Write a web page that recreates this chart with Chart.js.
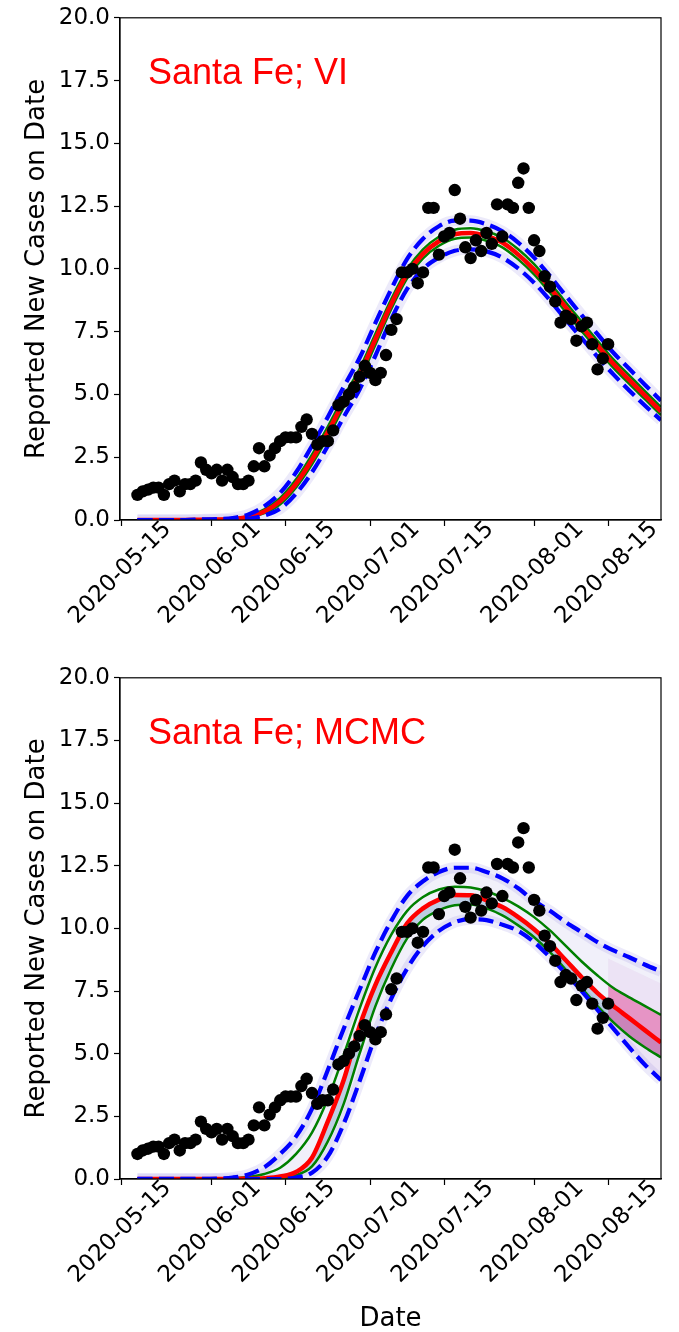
<!DOCTYPE html>
<html>
<head>
<meta charset="utf-8">
<script src="https://cdn.jsdelivr.net/npm/chart.js@4.4.1/dist/chart.umd.min.js"></script>
<style>
  html, body { margin: 0; padding: 0; background: #fff; }
  #wrap { position: relative; width: 679px; height: 1332px; }
  canvas { position: absolute; left: 0; }
  #topChart { top: 0; }
  #bottomChart { top: 660px; }
</style>
</head>
<body>
<div id="wrap">
  <canvas id="topChart" width="679" height="660"></canvas>
  <canvas id="bottomChart" width="679" height="672"></canvas>
</div>
<script>
// day 0 = 2020-05-15
const tickDays = [0, 17, 31, 47, 61, 78, 92];
const tickLabels = ['2020-05-15', '2020-06-01', '2020-06-15', '2020-07-01', '2020-07-15', '2020-08-01', '2020-08-15'];
const yTicks = [0, 2.5, 5, 7.5, 10, 12.5, 15, 17.5, 20];

// Reported cases (black dots)
const obsDays = [3, 4, 5, 6, 7, 8, 9, 10, 11, 12, 13, 14, 15, 16, 17, 18, 19, 20, 21, 22,
  23, 24, 25, 26, 27, 28, 29, 30, 31, 32, 33, 34, 35, 36, 37, 38, 39, 40, 41, 42,
  43, 44, 45, 46, 47, 48, 49, 50, 51, 52, 53, 54, 55, 56, 57, 58, 59, 60, 61, 62,
  63, 64, 65, 66, 67, 68, 69, 70, 71, 72, 73, 74, 75, 76, 77, 78, 79, 80, 81, 82,
  83, 84, 85, 86, 87, 88, 89, 90, 91, 92];
const obsCases = [1.0, 1.14, 1.21, 1.29, 1.29, 1.0, 1.43, 1.57, 1.14, 1.43, 1.43, 1.57, 2.29, 2.0, 1.86, 2.0, 1.57, 2.0, 1.71, 1.43,
  1.43, 1.57, 2.14, 2.86, 2.14, 2.57, 2.86, 3.14, 3.29, 3.29, 3.29, 3.71, 4.0, 3.43, 3.0, 3.14, 3.14, 3.57, 4.57, 4.71,
  5.0, 5.29, 5.71, 6.14, 5.86, 5.57, 5.86, 6.57, 7.57, 8.0, 9.86, 9.86, 10.0, 9.43, 9.86, 12.43, 12.43, 10.57, 11.29, 11.43,
  13.14, 12.0, 10.86, 10.43, 11.14, 10.71, 11.43, 11.0, 12.57, 11.29, 12.57, 12.43, 13.43, 14.0, 12.43, 11.14, 10.71, 9.71, 9.29, 8.71,
  7.86, 8.14, 8.0, 7.14, 7.71, 7.86, 7.0, 6.0, 6.43, 7.0];

// Model curves, read every 3 days
const curveDays = [3, 6, 9, 12, 15, 18, 21, 24, 27, 30, 33, 36, 39, 42, 45, 48, 51,
  54, 57, 60, 63, 66, 69, 72, 75, 78, 81, 84, 87, 90, 93, 96, 99, 102];

const viMean    = [0, 0, 0, 0, 0.01, 0.02, 0.04, 0.12, 0.34, 0.75, 1.45, 2.4, 3.5, 4.7, 5.8, 7.2, 8.6,
  9.8, 10.6, 11.1, 11.38, 11.43, 11.3, 11.05, 10.57, 9.97, 9.25, 8.47, 7.7, 6.95, 6.22, 5.58, 4.95, 4.33];
const viInnerHi = [0, 0, 0, 0, 0.01, 0.03, 0.06, 0.16, 0.42, 0.88, 1.62, 2.6, 3.72, 4.92, 6.02, 7.42, 8.8,
  9.98, 10.78, 11.28, 11.56, 11.62, 11.5, 11.24, 10.78, 10.19, 9.46, 8.66, 7.9, 7.14, 6.4, 5.76, 5.12, 4.5];
const viInnerLo = [0, 0, 0, 0, 0.005, 0.015, 0.03, 0.09, 0.27, 0.63, 1.3, 2.22, 3.3, 4.48, 5.58, 6.98, 8.4,
  9.62, 10.42, 10.92, 11.2, 11.25, 11.12, 10.86, 10.38, 9.78, 9.05, 8.28, 7.52, 6.78, 6.06, 5.42, 4.8, 4.18];
const viOuterHi = [0, 0, 0, 0, 0.02, 0.04, 0.08, 0.22, 0.55, 1.08, 1.9, 2.95, 4.1, 5.3, 6.45, 7.85, 9.2,
  10.4, 11.2, 11.7, 11.92, 11.92, 11.78, 11.5, 11.05, 10.45, 9.72, 8.93, 8.16, 7.4, 6.66, 6.02, 5.38, 4.75];
const viOuterLo = [0, 0, 0, 0, 0, 0.01, 0.02, 0.05, 0.18, 0.45, 1.05, 1.9, 2.95, 4.1, 5.2, 6.55, 8.0,
  9.2, 10.0, 10.45, 10.72, 10.78, 10.7, 10.45, 10.02, 9.45, 8.75, 7.98, 7.24, 6.5, 5.8, 5.16, 4.55, 3.98];

const mcMean    = [0, 0, 0, 0, 0, 0, 0.005, 0.01, 0.03, 0.1, 0.28, 0.85, 2.3, 3.95, 6.1, 7.75, 9.05,
  10.2, 10.8, 11.15, 11.33, 11.32, 11.12, 10.85, 10.45, 9.97, 9.4, 8.73, 8.05, 7.42, 6.9, 6.42, 5.93, 5.45];
const mcInnerHi = [0, 0, 0, 0, 0, 0.01, 0.03, 0.08, 0.2, 0.45, 1.0, 1.85, 3.2, 4.95, 6.8, 8.45, 9.75,
  10.7, 11.25, 11.55, 11.66, 11.63, 11.48, 11.22, 10.88, 10.45, 9.92, 9.3, 8.68, 8.12, 7.62, 7.25, 6.9, 6.55];
const mcInnerLo = [0, 0, 0, 0, 0, 0, 0, 0, 0.01, 0.04, 0.15, 0.5, 1.5, 3.0, 5.0, 6.9, 8.4,
  9.6, 10.35, 10.72, 10.92, 10.95, 10.8, 10.52, 10.12, 9.65, 9.05, 8.35, 7.62, 6.9, 6.25, 5.7, 5.25, 4.85];
const mcOuterHi = [0.01, 0.01, 0.01, 0.01, 0.01, 0.02, 0.06, 0.18, 0.47, 1.0, 1.7, 2.8, 4.35, 6.0, 7.55, 9.05, 10.3,
  11.3, 11.88, 12.25, 12.42, 12.42, 12.25, 12.0, 11.6, 11.1, 10.7, 10.25, 9.85, 9.45, 9.12, 8.85, 8.55, 8.28];
const mcOuterLo = [0, 0, 0, 0, 0, 0, 0, 0, 0, 0, 0.06, 0.25, 0.9, 2.2, 3.9, 5.7, 7.2,
  8.4, 9.3, 9.9, 10.25, 10.37, 10.33, 10.15, 9.9, 9.45, 8.85, 8.2, 7.5, 6.75, 6.0, 5.25, 4.55, 3.95];

// MCMC forecast tail (pink/purple shading)
const tailDays = [92, 96, 99, 102];
const tailInnerHi = [7.78, 7.25, 6.9, 6.55];
const tailInnerLo = [6.45, 5.7, 5.25, 4.85];
const tailOuterHi = [8.8, 8.4, 8.1, 7.8];
const tailOuterLo = [6.1, 5.3, 4.6, 4.0];

const FONT = 'DejaVu Sans';

const panelDecor = {
  id: 'panelDecor',
  afterDraw(chart, args, opts) {
    const { ctx, chartArea: a } = chart;
    ctx.save();
    ctx.strokeStyle = '#000';
    ctx.lineWidth = 1.2;
    ctx.strokeRect(a.left, a.top, a.right - a.left, a.bottom - a.top);
    ctx.fillStyle = '#ff0000';
    ctx.font = '36px "Liberation Sans"';
    ctx.textBaseline = 'alphabetic';
    ctx.fillText(opts.text, a.left + 28, a.top + 66);
    ctx.restore();
  }
};

function pts(days, vals) {
  return days.map((d, i) => ({ x: d, y: vals[i] }));
}

function curve(days, vals, color, width, order, extra) {
  return Object.assign({
    data: pts(days, vals),
    borderColor: color,
    borderWidth: width,
    pointRadius: 0,
    cubicInterpolationMode: 'monotone',
    fill: false,
    order: order
  }, extra || {});
}

function buildChart(id, p) {
  const none = 'rgba(0,0,0,0)';
  const dash = { borderDash: [15, 6.5] };
  const datasets = [
    { data: pts(obsDays, obsCases), showLine: false, pointRadius: 6.2, pointBackgroundColor: '#000',
      pointBorderWidth: 0, order: 0 },                                       // 0
    curve(curveDays, p.outerHi, '#0000ff', 4.2, 1, dash),                    // 1
    curve(curveDays, p.outerLo, '#0000ff', 4.2, 1, dash),                    // 2
    curve(curveDays, p.mean, '#ff0000', 4.5, 2),                             // 3
    curve(curveDays, p.innerHi, '#008000', 2.5, 3),                          // 4
    curve(curveDays, p.innerLo, '#008000', 2.5, 3),                          // 5
    curve(curveDays, p.outerHi, 'rgba(150,140,230,0.18)', 11, 6),            // 6
    curve(curveDays, p.outerLo, 'rgba(150,140,230,0.18)', 11, 6),            // 7
    curve(curveDays, p.outerHi, none, 1, 7, { fill: { target: 9 }, backgroundColor: p.band }), // 8
    curve(curveDays, p.outerLo, none, 1, 8)                                  // 9
  ];
  if (p.tail) {
    datasets.push(
      curve(curveDays, p.mean, none, 1, 5, { fill: { target: 5 }, backgroundColor: 'rgba(70,130,180,0.3)' }), // 10
      curve(tailDays, tailOuterHi, none, 1, 5.5, { fill: { target: 12 }, backgroundColor: 'rgba(190,110,200,0.1)' }), // 11
      curve(tailDays, tailOuterLo, none, 1, 5.6),                              // 12
      curve(tailDays, tailInnerHi, none, 1, 4, { fill: { target: 14 }, backgroundColor: 'rgba(225,40,130,0.42)' }), // 13
      curve(tailDays, tailInnerLo, none, 1, 4.1)                               // 14
    );
  }

  const tickFont = { family: FONT, size: 23 };
  const axisGrid = { drawOnChartArea: false, drawTicks: true, tickLength: 6, tickColor: '#000', tickWidth: 1.2 };

  return new Chart(document.getElementById(id), {
    type: 'line',
    data: { datasets: datasets },
    plugins: [panelDecor],
    options: {
      responsive: false,
      animation: false,
      events: [],
      layout: { padding: { top: 16, right: 18, left: 0, bottom: 0 } },
      plugins: {
        legend: { display: false },
        tooltip: { enabled: false },
        panelDecor: { text: p.label }
      },
      scales: {
        x: {
          type: 'linear',
          min: -0.3,
          max: 102,
          afterBuildTicks: s => { s.ticks = tickDays.map(v => ({ value: v })); },
          afterFit: s => { s.height = p.xHeight; },
          ticks: {
            callback: v => tickLabels[tickDays.indexOf(v)],
            autoSkip: false,
            minRotation: 45,
            maxRotation: 45,
            labelOffset: 46,
            padding: -10,
            color: '#000',
            font: tickFont
          },
          grid: axisGrid,
          border: { display: true, color: '#000', width: 1.2 },
          title: p.xTitle
            ? { display: true, text: 'Date', color: '#000', font: { family: FONT, size: 26, lineHeight: 1 }, padding: { top: 0, bottom: 0 } }
            : { display: false }
        },
        y: {
          min: 0,
          max: 20,
          afterBuildTicks: s => { s.ticks = yTicks.map(v => ({ value: v })); },
          afterFit: s => { s.width = 120; },
          ticks: {
            callback: v => v.toFixed(1),
            padding: 4,
            color: '#000',
            font: tickFont
          },
          grid: axisGrid,
          border: { display: true, color: '#000', width: 1.2 },
          title: {
            display: true,
            text: 'Reported New Cases on Date',
            color: '#000',
            font: { family: FONT, size: 26, lineHeight: 1 },
            padding: { top: 24, bottom: 0 }
          }
        }
      }
    }
  });
}

buildChart('topChart', {
  label: 'Santa Fe; VI',
  mean: viMean, innerHi: viInnerHi, innerLo: viInnerLo, outerHi: viOuterHi, outerLo: viOuterLo,
  band: 'rgba(150,140,230,0.05)',
  xHeight: 140,
  xTitle: false,
  tail: false
});

buildChart('bottomChart', {
  label: 'Santa Fe; MCMC',
  mean: mcMean, innerHi: mcInnerHi, innerLo: mcInnerLo, outerHi: mcOuterHi, outerLo: mcOuterLo,
  band: 'rgba(150,140,220,0.13)',
  xHeight: 153,
  xTitle: true,
  tail: true
});
</script>
</body>
</html>
